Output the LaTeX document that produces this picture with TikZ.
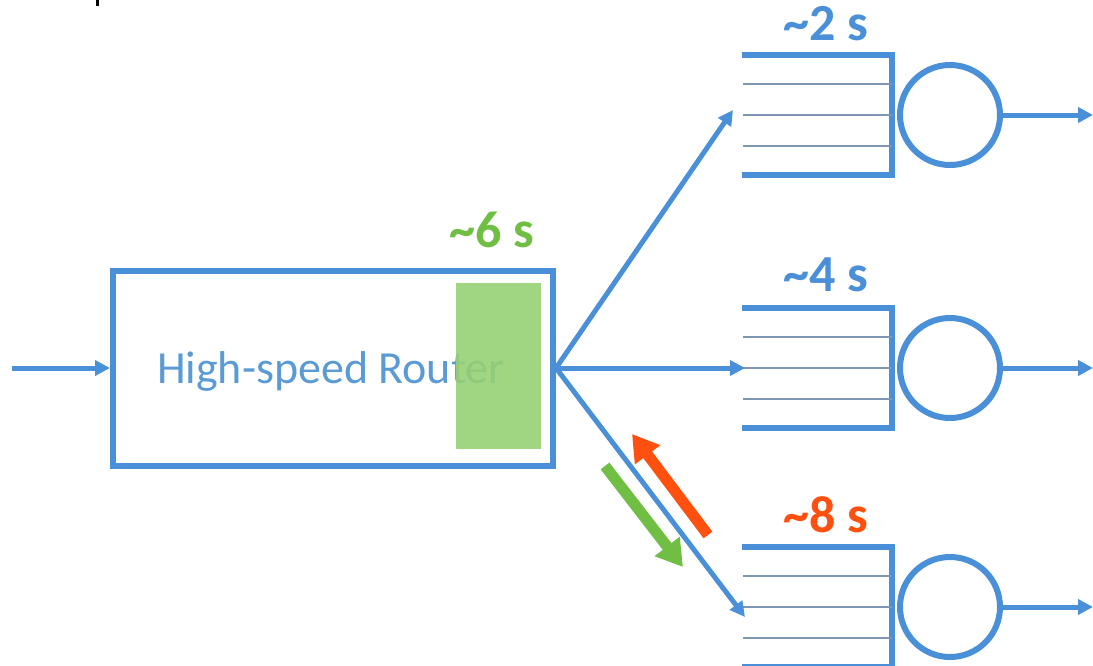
\documentclass[tikz,border=0pt]{standalone}
\usepackage{fontspec}
\setmainfont{Carlito}
\usetikzlibrary{arrows.meta}
\definecolor{qblue}{RGB}{74,144,217}
\definecolor{tblue}{RGB}{91,155,213}
\definecolor{qgray}{RGB}{125,150,180}
\definecolor{sgreen}{RGB}{112,190,68}
\definecolor{lgreen}{RGB}{150,208,115}
\definecolor{sorange}{RGB}{255,80,16}
\begin{document}
\begin{tikzpicture}[x=1pt,y=-1pt,
  flow/.style={draw=qblue,line width=5pt,-{Triangle[length=15pt,width=15pt]}},
  thick qline/.style={draw=qblue,line width=6pt},
  thin qline/.style={draw=qgray,line width=1.5pt},
  server/.style={circle,draw=qblue,line width=6pt,minimum size=100pt,inner sep=0pt},
  delay/.style={font=\bfseries\fontsize{52}{54}\selectfont,inner sep=0pt},
  big/.style={line width=11pt,-{Triangle[length=26pt,width=30pt]}}]
\useasboundingbox (0,0) rectangle (1093,665);
% cut-off mark
\fill[black] (96,0) rectangle (99,6);
% router
\node[draw=qblue,line width=6pt,minimum width=440pt,minimum height=195pt,inner sep=0pt] (router) at (333,368) {};
\node[text=tblue,font=\fontsize{46}{48}\selectfont] (rlabel) at (331,371) {High-speed Router};
\fill[lgreen,opacity=0.9] (456,283) rectangle (541,449);
\node[delay,text=sgreen] (l6) at (492,230) {\textasciitilde6 s};
% queues
\foreach \n/\y in {q1/115,q2/368,q3/607}{
  \coordinate (\n in) at (742,\y);
  \draw[thick qline] (742,\y-60) -- (892,\y-60) -- (892,\y+60) -- (742,\y+60);
  \draw[thin qline] (743,\y-31) -- (892,\y-31);
  \draw[thin qline] (743,\y) -- (892,\y);
  \draw[thin qline] (743,\y+31) -- (892,\y+31);
  \node[server] (\n s) at (950,\y) {};
  \coordinate (\n out) at (1093,\y);
  \draw[flow] (\n s.east) -- (\n out);
}
\node[delay,text=qblue] (l2) at (826,24) {\textasciitilde2 s};
\node[delay,text=qblue] (l4) at (826,275) {\textasciitilde4 s};
\node[delay,text=sorange] (l8) at (826,515) {\textasciitilde8 s};
% input
\coordinate (src) at (12,368);
\draw[flow] (src) -- (router.west);
% router to queues
\coordinate (t1) at (733,110);
\coordinate (t2) at (745,368);
\coordinate (t3) at (745,617);
\draw[flow] (router.east) -- (t1);
\draw[flow] (router.east) -- (t2);
\draw[flow] (router.east) -- (t3);
% feedback arrows
\coordinate (ra) at (708,535);
\coordinate (rb) at (632,434);
\coordinate (ga) at (605,466);
\coordinate (gb) at (683,567);
\draw[big,draw=sorange,fill=sorange] (ra) -- (rb);
\draw[big,draw=sgreen,fill=sgreen] (ga) -- (gb);
\end{tikzpicture}
\end{document}
